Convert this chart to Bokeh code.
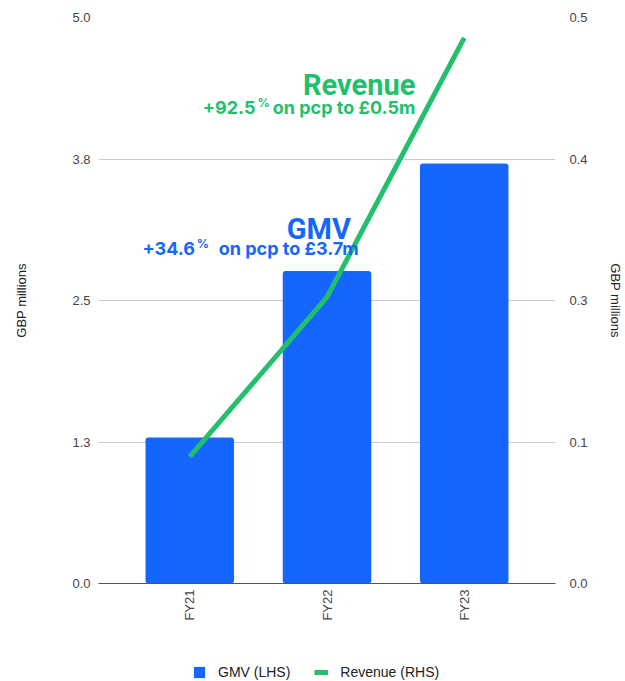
import math
from bokeh.plotting import figure
from bokeh.layouts import column
from bokeh.models import (Range1d, LinearAxis, FixedTicker, Label, Legend,
                          LegendItem, ColumnDataSource)
from bokeh.embed import file_html
from bokeh.resources import INLINE

# ---------------- data ----------------
categories = ["FY21", "FY22", "FY23"]
gmv = [1.29, 2.76, 3.71]            # GBP millions (LHS)
revenue = [0.112, 0.253, 0.482]     # GBP millions (RHS)
left_ticks = [0.0, 1.25, 2.5, 3.75, 5.0]
left_tick_labels = ["0.0", "1.3", "2.5", "3.8", "5.0"]
right_ticks = [0.0, 0.125, 0.25, 0.375, 0.5]
right_tick_labels = ["0.0", "0.1", "0.3", "0.4", "0.5"]
series_labels = ["GMV (LHS)", "Revenue (RHS)"]
axis_title = "GBP millions"

BLUE = "#1466ff"
GREEN = "#22c06c"
GRID = "#cccccc"
TICK_TXT = "#444444"

# ---------------- layout ----------------
W, H_MAIN, H_LEG = 625, 625, 56
X0, X1 = -0.665, 2.665
FL, FR, FT, FB = 98, 558, 17, 583
Y_MAX = left_ticks[-1]


def dx(px):
    return X0 + (px - FL) * (X1 - X0) / (FR - FL)


def dy(py):
    return (FB - py) * Y_MAX / (FB - FT)


xs = list(range(len(categories)))
src = ColumnDataSource(dict(x=xs, gmv=gmv, rev=revenue))

p = figure(width=W, height=H_MAIN, output_backend="svg", toolbar_location=None,
           x_range=Range1d(X0, X1), y_range=Range1d(0, Y_MAX),
           min_border_left=FL, min_border_right=W - FR,
           min_border_top=FT, min_border_bottom=H_MAIN - FB,
           y_axis_location=None)
p.outline_line_color = None
p.background_fill_color = "white"
p.border_fill_color = "white"
p.extra_y_ranges = {"rev": Range1d(0, right_ticks[-1])}

# grid
p.xgrid.visible = False
p.ygrid.ticker = FixedTicker(ticks=left_ticks)
p.ygrid.grid_line_color = GRID
p.ygrid.grid_line_width = 1

# x axis
xa = p.xaxis[0]
xa.ticker = FixedTicker(ticks=xs)
xa.major_label_overrides = {i: c for i, c in enumerate(categories)}
xa.major_label_orientation = math.pi / 2
xa.major_tick_line_color = None
xa.major_tick_out = 0
xa.major_tick_in = 0
xa.minor_tick_line_color = None
xa.minor_tick_out = 0
xa.axis_line_color = "#555555"
xa.axis_line_width = 1.2
xa.major_label_standoff = 6
xa.major_label_text_font = "Liberation Sans"
xa.major_label_text_font_size = "13px"
xa.major_label_text_color = TICK_TXT


def style_y(ax, standoff, title_standoff):
    ax.major_tick_line_color = None
    ax.major_tick_out = 0
    ax.major_tick_in = 0
    ax.minor_tick_line_color = None
    ax.minor_tick_out = 0
    ax.axis_line_color = None
    ax.major_label_standoff = standoff
    ax.major_label_text_font = "Liberation Sans"
    ax.major_label_text_font_size = "13px"
    ax.major_label_text_color = TICK_TXT
    ax.axis_label = axis_title
    ax.axis_label_text_font = "Liberation Sans"
    ax.axis_label_text_font_size = "13px"
    ax.axis_label_text_font_style = "normal"
    ax.axis_label_text_color = "#222222"
    ax.axis_label_standoff = title_standoff


la = LinearAxis(ticker=FixedTicker(ticks=left_ticks))
la.major_label_overrides = dict(zip(left_ticks, left_tick_labels))
style_y(la, 8, 40)
p.add_layout(la, "left")

ra = LinearAxis(y_range_name="rev", ticker=FixedTicker(ticks=right_ticks))
ra.major_label_overrides = dict(zip(right_ticks, right_tick_labels))
style_y(ra, 14, 17)
p.add_layout(ra, "right")

# glyphs
bars = p.vbar(x="x", top="gmv", width=0.645, source=src, fill_color=BLUE,
              line_color=None, border_radius=3)
line = p.line(x="x", y="rev", source=src, y_range_name="rev",
              line_color=GREEN, line_width=5, line_join="round")

# annotations
SUB_FONT = "Inter"
HEAD_FONT = "Roboto"


def lab(text, px, py, size, color, align, font, style="bold"):
    p.add_layout(Label(x=dx(px), y=dy(py), text=text, text_align=align,
                       text_baseline="alphabetic", text_font=font,
                       text_font_size=size, text_font_style=style,
                       text_color=color))


lab("Revenue", 417, 84, "29px", GREEN, "right", HEAD_FONT)
lab("+92.5", 256, 107, "18px", GREEN, "right", SUB_FONT)
lab("%", 258, 102, "12px", GREEN, "left", SUB_FONT)
lab("on pcp to £0.5m", 417, 107, "18px", GREEN, "right", SUB_FONT)

lab("GMV", 352, 228, "29px", BLUE, "right", HEAD_FONT)
lab("+34.6", 195, 248, "18px", BLUE, "right", SUB_FONT)
lab("%", 197, 243, "12px", BLUE, "left", SUB_FONT)
lab("on pcp to £3.7m", 360, 248, "18px", BLUE, "right", SUB_FONT)

# ---------------- legend strip ----------------
lg = figure(width=W, height=H_LEG, output_backend="svg", toolbar_location=None,
            x_range=Range1d(0, 1), y_range=Range1d(0, 1),
            min_border_left=FL, min_border_right=W - FR, min_border_top=0,
            min_border_bottom=0, x_axis_location=None, y_axis_location=None)
lg.outline_line_color = None
lg.xgrid.visible = False
lg.ygrid.visible = False
lg.border_fill_color = "white"
lg.background_fill_color = "white"
# legend-only renderers, their single sample lies outside the visible range
k_src = ColumnDataSource(dict(x=[-10.0, -9.0], y=[-10.0, -10.0]))
k_bar = lg.vbar(x="x", top="y", width=0.5, source=k_src,
                fill_color=BLUE, line_color=None)
k_line = lg.line(x="x", y="y", source=k_src, line_color=GREEN, line_width=5)

legend = Legend(items=[LegendItem(label=series_labels[0], renderers=[k_bar]),
                       LegendItem(label=series_labels[1], renderers=[k_line])],
                location=(192 - FL, 1), orientation="horizontal",
                padding=0, margin=0, spacing=24,
                glyph_width=14, glyph_height=14, label_height=14,
                label_standoff=12, border_line_alpha=0,
                background_fill_alpha=0,
                label_text_font="Liberation Sans",
                label_text_font_size="14px", label_text_color="#222222")
lg.add_layout(legend)

layout = column(p, lg, spacing=0)
open("out.html", "w").write(file_html(layout, INLINE))
